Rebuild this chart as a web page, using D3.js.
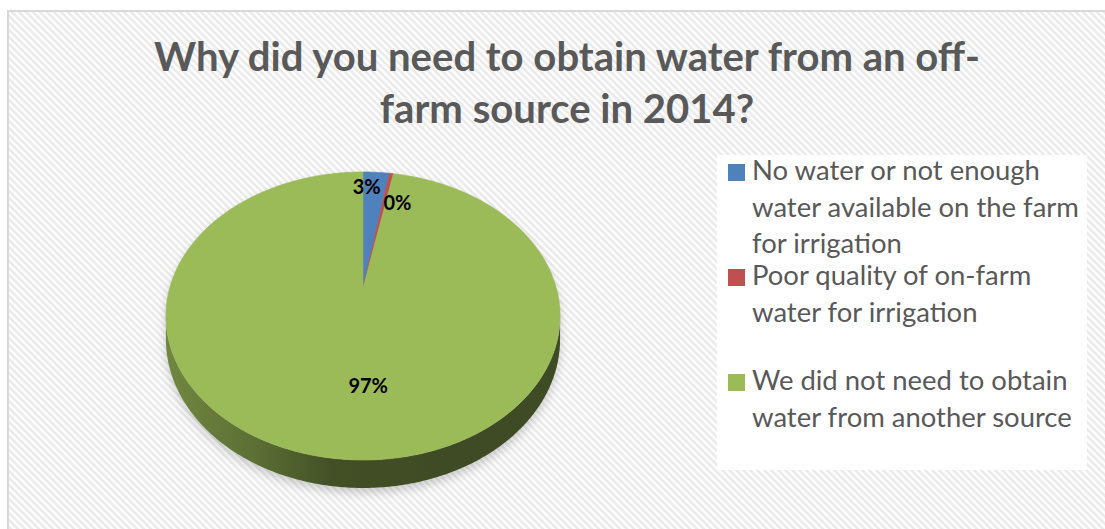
<!DOCTYPE html>
<html>
<head>
<meta charset="utf-8">
<script src="https://cdn.jsdelivr.net/npm/d3@7"></script>
<style>
  body { margin: 0; background: #ffffff; }
  svg { display: block; }
</style>
</head>
<body>
<svg id="chart" width="1105" height="529"></svg>
<script>
// Survey answers and their shares (percent of respondents)
const titleLines = ["Why did you need to obtain water from an off-", "farm source in 2014?"];
const categories = [
  "No water or not enough water available on the farm for irrigation",
  "Poor quality of on-farm water for irrigation",
  "We did not need to obtain water from another source"
];
const legendLines = [
  ["No water or not enough", "water available on the farm", "for irrigation"],
  ["Poor quality of on-farm", "water for irrigation"],
  ["We did not need to obtain", "water from another source"]
];
const shares = [2.6, 0.4, 97.0];
const sliceColors = ["#4f81bd", "#c0504d", "#9bbb59"];

const svg = d3.select("#chart");
const defs = svg.append("defs");
const FONT = "Lato, 'Open Sans', 'DejaVu Sans', sans-serif";

// ---- background: hatched chart area with a thin frame ----
const pat = defs.append("pattern")
  .attr("id", "hatch").attr("patternUnits", "userSpaceOnUse")
  .attr("width", 7).attr("height", 7);
pat.append("rect").attr("width", 7).attr("height", 7).attr("fill", "#fdfdfd");
pat.append("path")
  .attr("d", "M-1,-1 L8,8 M-1,6 L1,8 M6,-1 L8,1")
  .attr("stroke", "#ebebeb").attr("stroke-width", 2.6);

svg.append("rect")
  .attr("x", 8).attr("y", 11).attr("width", 1105).attr("height", 529)
  .attr("fill", "url(#hatch)")
  .attr("stroke", "#d9d9d9").attr("stroke-width", 2);

// ---- title ----
const title = svg.append("g");
const titleText = title.selectAll("text").data(titleLines).join("text")
  .attr("x", 567).attr("y", (d, i) => 71 + i * 52)
  .attr("text-anchor", "middle")
  .attr("font-family", FONT).attr("font-weight", 700)
  .attr("font-size", 36).attr("fill", "#595959")
  .text(d => d);
{
  const w = titleText.nodes()[0].getComputedTextLength();
  titleText.attr("font-size", 36 * 826 / w);
}

// ---- 3D pie: perspective projection of a tilted disc ----
const cx = 363, ex = 193.3, ay = 82.6, by = 288, persp = -0.1944, depth = 22.5;
function proj(theta, r, h) {
  const X = r * Math.sin(theta), Z = -r * Math.cos(theta);
  const w = 1 + persp * Z;
  return [cx + ex * X / w, (ay * Z + by) / w + h * depth / w];
}
function arcPoints(a0, a1, r, h) {
  const n = Math.max(2, Math.ceil(Math.abs(a1 - a0) / 0.01));
  return d3.range(n + 1).map(i => proj(a0 + (a1 - a0) * i / n, r, h));
}

const pie = d3.pie().sort(null).value(d => d);
const slices = pie(shares);
const line = d3.line();

// silhouette of the rim: leftmost and rightmost projected points
const samples = d3.range(0, 2 * Math.PI, 0.002);
const thetaRight = samples[d3.maxIndex(samples, t => proj(t, 1, 0)[0])];
const thetaLeft = samples[d3.minIndex(samples, t => proj(t, 1, 0)[0])];

// soft shadow below the disc
const shadow = defs.append("filter").attr("id", "shadow")
  .attr("x", "-20%").attr("y", "-20%").attr("width", "140%").attr("height", "140%");
shadow.append("feGaussianBlur").attr("stdDeviation", 5);
{
  const pts = arcPoints(thetaRight, thetaLeft, 1, 1)
    .concat(arcPoints(thetaLeft, thetaRight + 2 * Math.PI, 1, 0));
  svg.append("path")
    .attr("d", line(pts.map(p => [p[0], p[1] + 5])) + "Z")
    .attr("fill", "#000").attr("opacity", 0.18)
    .attr("filter", "url(#shadow)");
}

// side wall of the front half
const pieG = svg.append("g");
slices.forEach((s, i) => {
  const a0 = Math.max(s.startAngle, thetaRight), a1 = Math.min(s.endAngle, thetaLeft);
  if (a1 <= a0) return;
  const gid = "side" + i;
  const base = d3.interpolateRgb(sliceColors[i], "#000");
  const g = defs.append("linearGradient").attr("id", gid)
    .attr("gradientUnits", "userSpaceOnUse")
    .attr("x1", proj(thetaLeft, 1, 0)[0]).attr("x2", proj(thetaRight, 1, 0)[0])
    .attr("y1", 0).attr("y2", 0);
  [[0, 0.28], [0.22, 0.4], [0.42, 0.57], [0.7, 0.6], [1, 0.6]].forEach(([o, k]) =>
    g.append("stop").attr("offset", o).attr("stop-color", base(k)));
  const pts = arcPoints(a0, a1, 1, 0).concat(arcPoints(a1, a0, 1, 1));
  pieG.append("path").attr("d", line(pts) + "Z").attr("fill", `url(#${gid})`);
});

// top face
pieG.selectAll("path.top").data(slices).join("path")
  .attr("class", "top")
  .attr("d", s => line([proj(0, 0, 0)].concat(arcPoints(s.startAngle, s.endAngle, 1, 0))) + "Z")
  .attr("fill", (s, i) => sliceColors[i])
  .attr("stroke", (s, i) => sliceColors[i]).attr("stroke-width", 0.6)
  .attr("stroke-linejoin", "round");

// data labels (small slices nudged apart so their labels stay readable)
const labelRadius = [0.86, 0.72, 0.62];
const labelShift = [-8, 13, 18];
pieG.selectAll("text.lbl").data(slices).join("text")
  .attr("class", "lbl")
  .each(function (s, i) {
    const p = proj((s.startAngle + s.endAngle) / 2, labelRadius[i], 0);
    d3.select(this).attr("x", p[0] + labelShift[i]).attr("y", p[1]);
  })
  .attr("text-anchor", "middle").attr("dominant-baseline", "central")
  .attr("font-family", FONT).attr("font-weight", 700).attr("font-size", 20)
  .attr("fill", "#000")
  .text(s => Math.round(s.data) + "%");

// ---- legend ----
const legend = svg.append("g");
legend.append("rect")
  .attr("x", 717).attr("y", 155).attr("width", 370).attr("height", 315)
  .attr("fill", "#ffffff");
const entryTop = [180, 285, 390];
const rowGap = 36.5;
const items = legend.selectAll("g.item").data(categories).join("g").attr("class", "item");
items.append("rect")
  .attr("x", 728).attr("y", (d, i) => entryTop[i] - 16)
  .attr("width", 17).attr("height", 17)
  .attr("fill", (d, i) => sliceColors[i]);
const legText = items.append("text")
  .attr("font-family", FONT).attr("font-size", 25).attr("fill", "#595959");
legText.each(function (d, i) {
  d3.select(this).selectAll("tspan").data(legendLines[i]).join("tspan")
    .attr("x", 752).attr("y", (t, j) => entryTop[i] + j * rowGap)
    .text(t => t);
});
{
  const ref = legText.nodes()[0].childNodes[1];
  const w = ref.getComputedTextLength();
  legText.attr("font-size", 25 * 327 / w);
}
</script>
</body>
</html>
